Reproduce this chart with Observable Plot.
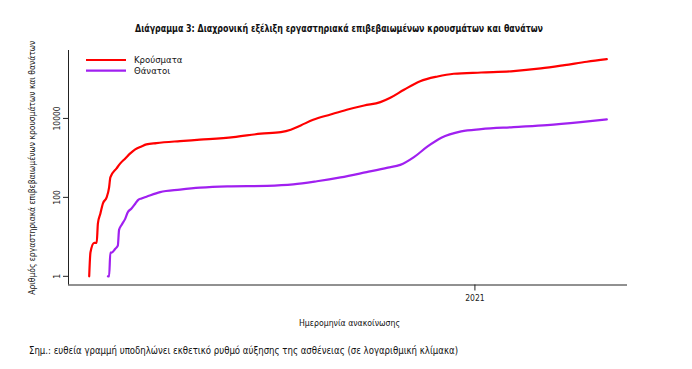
<!DOCTYPE html>
<html>
<head>
<meta charset="utf-8">
<script src="https://cdn.jsdelivr.net/npm/d3@7"></script>
<script src="https://cdn.jsdelivr.net/npm/@observablehq/plot@0.6"></script>
<style>
html, body { margin: 0; padding: 0; background: #fff; }
#chart { position: relative; width: 692px; height: 369px; }
#chart svg { display: block; }
</style>
</head>
<body>
<div id="chart"></div>
<script>
// ---- data ----
const casesDates = ["2020-02-26","2020-02-27","2020-03-01","2020-03-03","2020-03-04","2020-03-06","2020-03-08","2020-03-11","2020-03-13","2020-03-14","2020-03-19","2020-03-22","2020-03-26","2020-03-30","2020-04-03","2020-04-08","2020-04-12","2020-04-20","2020-05-09","2020-05-25","2020-06-21","2020-07-13","2020-07-29","2020-08-06","2020-08-14","2020-08-24","2020-09-07","2020-09-20","2020-10-04","2020-10-17","2020-10-25","2020-11-05","2020-11-18","2020-12-02","2020-12-15","2021-01-06","2021-02-01","2021-02-23","2021-03-14","2021-04-01","2021-04-17"];
const casesValues = [1,4,7,7,22,39,70,100,179,321,542,726,971,1300,1641,1955,2197,2371,2663,2890,3364,4100,4500,5180,6650,9270,12600,16600,21300,25900,33400,53300,88000,115700,135400,146000,157500,184500,223500,272500,317000];

const deathsDates = ["2020-03-12","2020-03-13","2020-03-14","2020-03-15","2020-03-18","2020-03-20","2020-03-21","2020-03-23","2020-03-26","2020-03-28","2020-03-31","2020-04-03","2020-04-05","2020-04-08","2020-04-12","2020-04-23","2020-05-09","2020-05-25","2020-06-16","2020-07-18","2020-08-08","2020-08-27","2020-09-15","2020-10-06","2020-10-23","2020-11-02","2020-11-13","2020-11-24","2020-12-05","2020-12-21","2021-01-06","2021-02-01","2021-02-28","2021-03-27","2021-04-17"];
const deathsValues = [1,1,4,4,5,6,15,20,29,42,52,69,84,94,104,136,157,176,190,196,213,256,321,437,565,665,1047,1955,3245,4690,5360,6025,6765,8060,9440];

const seriesNames = ["Κρούσματα", "Θάνατοι"];
const seriesColors = ["#ff0000", "#a020f0"];
const yTicks = [1, 100, 10000];
const yTickLabels = ["1", "100", "10000"];
const xTicks = ["2021-01-01"];
const xTickLabels = ["2021"];

const titleText = "Διάγραμμα 3: Διαχρονική εξέλιξη εργαστηριακά επιβεβαιωμένων κρουσμάτων και θανάτων";
const yTitleText = "Αριθμός εργαστηριακά επιβεβαιωμένων κρουσμάτων και θανάτων";
const xTitleText = "Ημερομηνία ανακοίνωσης";
const captionText = "Σημ.: ευθεία γραμμή υποδηλώνει εκθετικό ρυθμό αύξησης της ασθένειας (σε λογαριθμική κλίμακα)";

// ---- build table ----
const rows = [
  ...casesDates.map((d, i) => ({date: new Date(d), value: casesValues[i], series: seriesNames[0]})),
  ...deathsDates.map((d, i) => ({date: new Date(d), value: deathsValues[i], series: seriesNames[1]}))
];

// R-style 4% padding of the data range
const xExt = d3.extent(rows, d => +d.date);
const xPad = (xExt[1] - xExt[0]) * 0.04;
const xDomain = [new Date(xExt[0] - xPad), new Date(xExt[1] + xPad)];
const lyExt = d3.extent(rows, d => Math.log10(d.value));
const lyPad = (lyExt[1] - lyExt[0]) * 0.04;
const yDomain = [Math.pow(10, lyExt[0] - lyPad), Math.pow(10, lyExt[1] + lyPad)];

const FONT = "'Liberation Sans Narrow', 'DejaVu Sans Condensed', 'Liberation Sans', sans-serif";

const chart = Plot.plot({
  width: 692,
  height: 369,
  marginLeft: 68,
  marginRight: 65,
  marginTop: 50,
  marginBottom: 84.5,
  style: {fontFamily: FONT, background: "#fff", color: "#111"},
  x: {type: "utc", domain: xDomain, axis: null},
  y: {type: "log", domain: yDomain, axis: null},
  color: {domain: seriesNames, range: seriesColors},
  marks: [
    Plot.ruleX([xDomain[0]], {stroke: "#222", strokeWidth: 1}),
    Plot.ruleY([yDomain[0]], {stroke: "#222", strokeWidth: 1}),
    Plot.axisY(yTicks, {
      anchor: "left",
      tickSize: 5,
      tickPadding: 4,
      tickRotate: -90,
      tickFormat: (d) => yTickLabels[yTicks.indexOf(d)],
      fontSize: 8.5,
      stroke: "#222",
      fill: "#222",
      label: null
    }),
    Plot.axisX(xTicks.map(d => new Date(d)), {
      anchor: "bottom",
      tickSize: 6,
      tickPadding: 4,
      tickFormat: (d, i) => xTickLabels[i],
      fontSize: 8.5,
      stroke: "#222",
      fill: "#222",
      label: null
    }),
    Plot.line(rows, {x: "date", y: "value", z: "series", stroke: "series", strokeWidth: 2.2, curve: "monotone-x"})
  ]
});

document.getElementById("chart").appendChild(chart);

// ---- titles, caption and legend ----
const svg = d3.select(chart);
function addText(txt, attrs) {
  const t = svg.append("text").text(txt)
    .attr("font-family", FONT)
    .attr("text-anchor", "start")
    .attr("fill", "#111");
  for (const k in attrs) t.attr(k, attrs[k]);
  return t;
}
addText(titleText, {x: 135, y: 32, "font-size": 11, "font-weight": "bold", textLength: 408, lengthAdjust: "spacingAndGlyphs"});
addText(xTitleText, {x: 299, y: 326, "font-size": 9.5, textLength: 101, lengthAdjust: "spacingAndGlyphs"});
addText(captionText, {x: 29, y: 354, "font-size": 10.5, textLength: 429, lengthAdjust: "spacingAndGlyphs"});
addText(yTitleText, {transform: "translate(35,167.7) rotate(-90)", "text-anchor": "middle", "font-size": 8.8, textLength: 254, lengthAdjust: "spacingAndGlyphs"});

const legend = svg.append("g");
seriesNames.forEach((name, i) => {
  const y = 60 + i * 10.7;
  legend.append("line").attr("x1", 86).attr("x2", 126).attr("y1", y).attr("y2", y)
    .attr("stroke", seriesColors[i]).attr("stroke-width", 2.2);
  legend.append("text").text(name).attr("x", 134).attr("y", y + 3.2)
    .attr("text-anchor", "start")
    .attr("font-family", FONT).attr("font-size", 9.5).attr("fill", "#111");
});
</script>
</body>
</html>
